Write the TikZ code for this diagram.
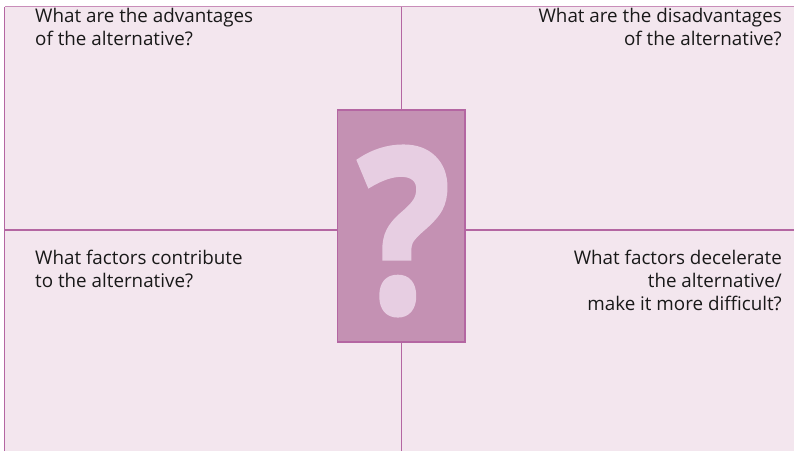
\documentclass[tikz,border=0pt]{standalone}
\usepackage{fontspec}
\setmainfont{Open Sans}
\newfontfamily\heavyfont[UprightFont={* Bold}, FakeBold=2.2]{Open Sans}

\definecolor{quadbg}{HTML}{F3E6EE}
\definecolor{frameline}{HTML}{B466A2}
\definecolor{topline}{HTML}{C98DB9}
\definecolor{qfill}{HTML}{C491B3}
\definecolor{qmarkfill}{HTML}{E7CEE2}

\tikzset{
  divider/.style={draw=frameline, line width=1.2pt},
  question/.style={font=\fontsize{18.8}{23}\selectfont, text=black!90, inner sep=0pt},
  qbox/.style={draw=frameline, fill=qfill, line width=1.2pt,
    minimum width=127.5pt, minimum height=232pt, inner sep=0pt},
  qmark/.style={text=qmarkfill, font=\heavyfont\fontsize{228}{228}\selectfont,
    inner sep=0pt, transform shape, xscale=0.84}
}

\begin{document}
\begin{tikzpicture}[x=1pt,y=-1pt]
\useasboundingbox (0,0) rectangle (794,451);
% sheet and frame
\fill[quadbg] (4.5,6.5) rectangle (794,451);
\draw[draw=topline, line width=1.2pt] (4.5,6.5) -- (794,6.5);
\draw[divider] (4.5,451) -- (4.5,6.5);
% quadrant dividers
\coordinate (top) at (401.5,6.5);
\coordinate (bottom) at (401.5,451);
\coordinate (left) at (4.5,230);
\coordinate (right) at (794,230);
\draw[divider] (top) -- (bottom);
\draw[divider] (left) -- (right);
% centre card
\node[qbox] (card) at (401.25,226) {};
\node[qmark] (qm) at ([xshift=3pt,yshift=-5pt]card) {?};
% the four questions
\node[question, anchor=north west, align=left] (adv) at (35,8.5)
  {What are the advantages\\of the alternative?};
\node[question, anchor=north east, align=right] (disadv) at (782,8.5)
  {What are the disadvantages\\of the alternative?};
\node[question, anchor=north west, align=left] (contrib) at (35,249.5)
  {What factors contribute\\to the alternative?};
\node[question, anchor=north east, align=right] (decel) at (782,249.5)
  {What factors decelerate\\the alternative/\\make it more difficult?};
\end{tikzpicture}
\end{document}
